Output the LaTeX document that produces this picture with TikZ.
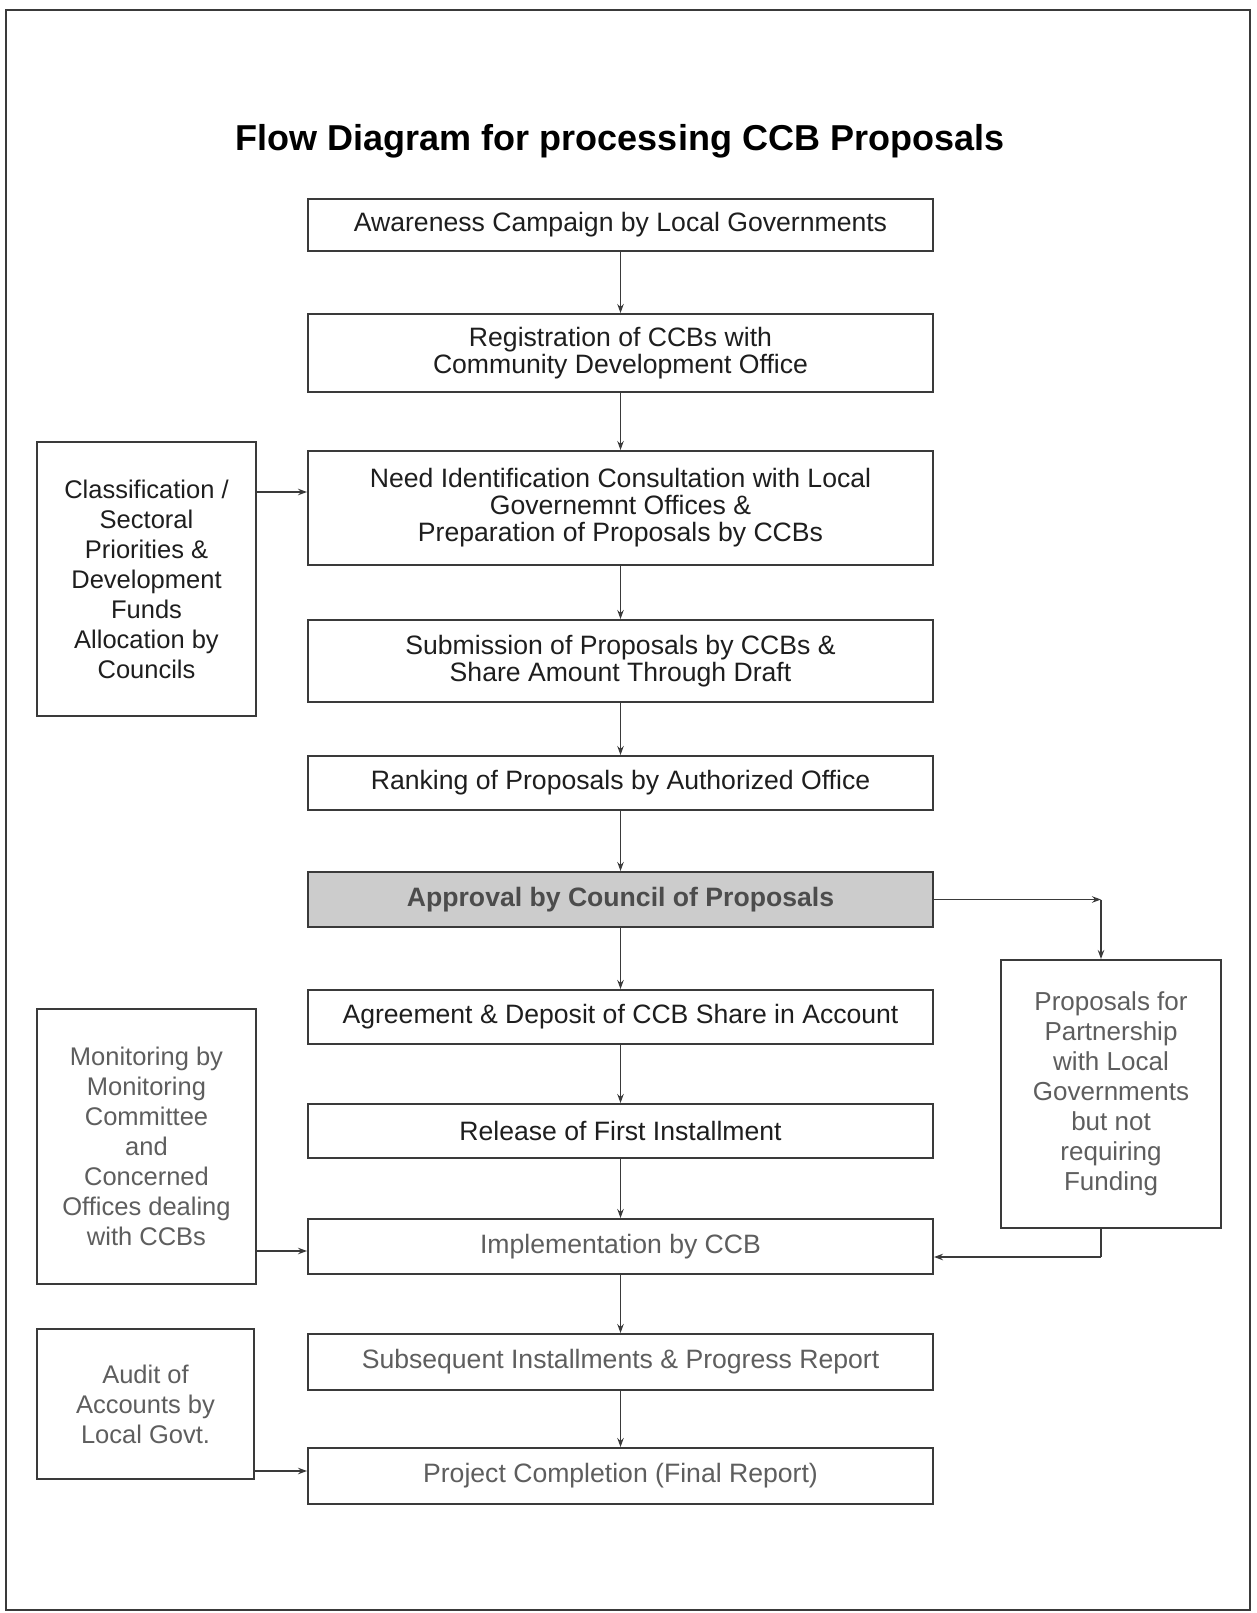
\documentclass[tikz,border=0pt]{standalone}
\usepackage{fontspec}
\setmainfont{Liberation Sans}
\usetikzlibrary{arrows.meta}
\definecolor{ink}{HTML}{1E1E1E}
\definecolor{faded}{HTML}{5E5E5E}
\definecolor{edge}{HTML}{3A3A3A}
\tikzset{
  box/.style={draw=edge, line width=2pt, fill=white, align=center, inner sep=0pt,
    font=\fontsize{26.6}{27}\selectfont, text=ink},
  midbox/.style={box, minimum width=625pt},
  sidebox/.style={box, minimum width=219pt, font=\fontsize{25.5}{30}\selectfont},
  fadetext/.style={text=faded},
  arr/.style={draw=edge, line width=1.3pt, -{Stealth[length=9pt,width=6.5pt]}},
  ln/.style={draw=edge, line width=1.3pt},
}
\begin{document}
\begin{tikzpicture}[x=1pt,y=-1pt]
\useasboundingbox (0,0) rectangle (1257,1613);
\draw[edge, line width=1.8pt] (6,10) rectangle (1250,1610);

\node (title) at (620,141) {\fontsize{36}{40}\selectfont\bfseries Flow Diagram for processing CCB Proposals};

\node[midbox, minimum height=52pt] (b1) at (620.5,225) {Awareness Campaign by Local Governments};
\node[midbox, minimum height=78pt] (b2) at (620.5,353) {Registration of CCBs with\\Community Development Office};
\node[midbox, minimum height=114pt] (b3) at (620.5,508) {Need Identification Consultation with Local\\Governemnt Offices \&\\Preparation of Proposals by CCBs};
\node[midbox, minimum height=82pt] (b4) at (620.5,661) {Submission of Proposals by CCBs \&\\Share Amount Through Draft};
\node[midbox, minimum height=54pt] (b5) at (620.5,783) {Ranking of Proposals by Authorized Office};
\node[midbox, minimum height=55pt, fill=black!20, text=black!70, font=\fontsize{26.6}{27}\selectfont\bfseries] (b6) at (620.5,899.5) {Approval by Council of Proposals};
\node[midbox, minimum height=54pt] (b7) at (620.5,1017) {Agreement \& Deposit of CCB Share in Account};
\node[midbox, minimum height=54pt] (b8) at (620.5,1131) {Release of First Installment};
\node[midbox, minimum height=55pt, fadetext] (b9) at (620.5,1246.5) {Implementation by CCB};
\node[midbox, minimum height=56pt, fadetext] (b10) at (620.5,1362) {Subsequent Installments \& Progress Report};
\node[midbox, minimum height=56pt, fadetext] (b11) at (620.5,1476) {Project Completion (Final Report)};

\node[sidebox, minimum height=274pt] (l1) at (146.5,579) {Classification /\\Sectoral\\Priorities \&\\Development\\Funds\\Allocation by\\Councils};
\node[sidebox, minimum height=275pt, fadetext] (l2) at (146.5,1146.5) {Monitoring by\\Monitoring\\Committee\\and\\Concerned\\Offices dealing\\with CCBs};
\node[sidebox, minimum height=150pt, minimum width=217pt, fadetext] (l3) at (145.5,1404) {Audit of\\Accounts by\\Local Govt.};
\node[sidebox, minimum height=268pt, minimum width=220pt, fadetext, font=\fontsize{26}{30}\selectfont] (r1) at (1111,1094) {Proposals for\\Partnership\\with Local\\Governments\\but not\\requiring\\Funding};

% main vertical flow
\draw[arr] (b1) -- (b2);
\draw[arr] (b2) -- (b3);
\draw[arr] (b3) -- (b4);
\draw[arr] (b4) -- (b5);
\draw[arr] (b5) -- (b6);
\draw[arr] (b6) -- (b7);
\draw[arr] (b7) -- (b8);
\draw[arr] (b8) -- (b9);
\draw[arr] (b9) -- (b10);
\draw[arr] (b10) -- (b11);

% side inputs
\coordinate (ya) at (0,492);
\coordinate (yb) at (0,1251);
\coordinate (yc) at (0,1471);
\draw[arr] (l1.east |- ya) -- (b3.west |- ya);
\draw[arr] (l2.east |- yb) -- (b9.west |- yb);
\draw[arr] (l3.east |- yc) -- (b11.west |- yc);

% partnership branch
\coordinate (rc) at (1101,899.5);
\coordinate (rd) at (1101,1257);
\draw[arr] (b6.east) -- (rc);
\draw[arr] (rc) -- (rc |- r1.north);
\draw[ln] (r1.south -| rd) -- (rd);
\draw[arr] (rd) -- (b9.east |- rd);
\end{tikzpicture}
\end{document}
